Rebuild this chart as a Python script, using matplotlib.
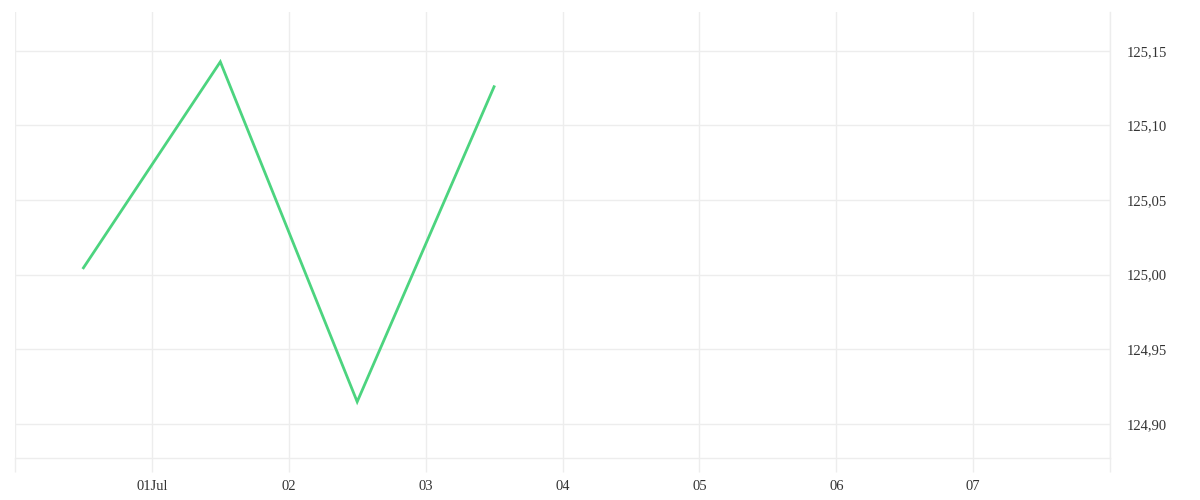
import numpy as np
import matplotlib
matplotlib.use("Agg")
import matplotlib.pyplot as plt
import matplotlib.dates as mdates
from datetime import datetime

# data
dates = ["2021-06-30 12:00", "2021-07-01 12:00", "2021-07-02 12:00", "2021-07-03 12:00"]
values = [125.0045, 125.1426, 124.9147, 125.1259]

tick_days = ["2021-06-30", "2021-07-01", "2021-07-02", "2021-07-03", "2021-07-04",
             "2021-07-05", "2021-07-06", "2021-07-07", "2021-07-08"]
tick_labels = ["", "01Jul", "02", "03", "04", "05", "06", "07", ""]
y_ticks = [124.90, 124.95, 125.00, 125.05, 125.10, 125.15]

grid_col = "#ededed"
line_col = "#4cd47f"

plt.rcParams['font.family'] = ['Liberation Serif', 'DejaVu Serif']

fig = plt.figure(figsize=(12, 5), dpi=100)
ax = fig.add_axes([15/1200, 42/500, 1095/1200, 446/500])

x = [datetime.strptime(d, "%Y-%m-%d %H:%M") for d in dates]
ax.plot(x, values, color=line_col, linewidth=2, solid_joinstyle="miter")

xt = [datetime.strptime(d, "%Y-%m-%d") for d in tick_days]
ax.set_xlim(xt[0], xt[-1])
ax.set_xticks(xt)
ax.set_xticklabels(tick_labels)
ax.set_ylim(124.877, 125.176)
ax.set_yticks(y_ticks)
ax.set_yticklabels([("%.2f" % v).replace(".", ",") for v in y_ticks])

ax.yaxis.tick_right()
ax.grid(True, color=grid_col, linewidth=1)
ax.set_axisbelow(True)

for s in ["top", "left"]:
    ax.spines[s].set_visible(False)
for s in ["bottom", "right"]:
    ax.spines[s].set_color(grid_col)
    ax.spines[s].set_linewidth(1)

ax.tick_params(axis="x", length=10, color=grid_col, width=1, pad=6,
               labelsize=10.5, labelcolor="#333333")
ax.tick_params(axis="y", length=0, pad=12, labelsize=10.5, labelcolor="#333333")
for lab in ax.get_yticklabels():
    lab.set_horizontalalignment("left")

fig.savefig("out.png", dpi=100, facecolor="white")
